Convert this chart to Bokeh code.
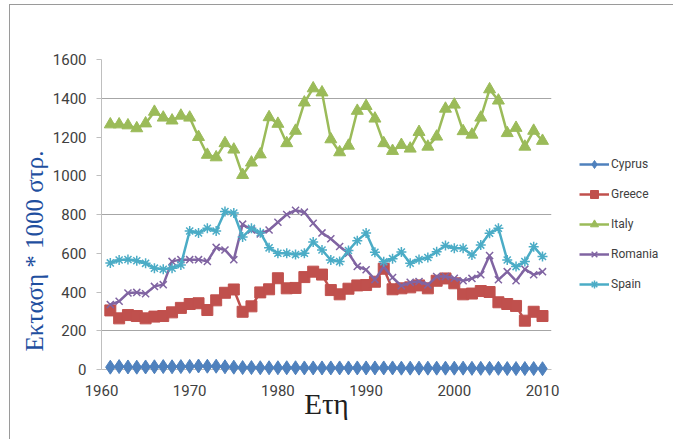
from bokeh.plotting import figure
from bokeh.models import Range1d, FixedTicker, Legend, Title
from bokeh.embed import file_html
from bokeh.resources import INLINE

years = list(range(1961, 2011))

cyprus = [12, 15, 13, 12, 13, 14, 15, 14, 15, 16,
          18, 17, 17, 14, 12, 10, 10, 9, 9, 9,
          9, 9, 8, 8, 8, 8, 8, 8, 8, 8,
          8, 8, 8, 7, 7, 7, 7, 7, 7, 7,
          7, 6, 6, 6, 6, 5, 5, 5, 5, 4]
greece = [305, 264, 281, 276, 264, 273, 276, 295, 318, 338,
          342, 307, 357, 396, 413, 298, 326, 398, 414, 471,
          419, 421, 477, 505, 490, 410, 388, 417, 434, 436,
          453, 520, 414, 419, 424, 434, 419, 458, 470, 445,
          388, 392, 405, 400, 347, 338, 328, 252, 298, 276]
italy = [1265, 1265, 1260, 1245, 1270, 1330, 1300, 1285, 1310, 1300,
         1200, 1108, 1095, 1168, 1135, 1004, 1068, 1110, 1302, 1268,
         1168, 1232, 1378, 1451, 1430, 1188, 1121, 1155, 1335, 1360,
         1295, 1168, 1128, 1159, 1140, 1226, 1150, 1202, 1346, 1367,
         1230, 1212, 1300, 1446, 1388, 1220, 1247, 1150, 1232, 1180]
romania = [335, 352, 395, 398, 391, 429, 438, 558, 567, 567,
           567, 558, 630, 617, 567, 750, 720, 700, 720, 760,
           800, 822, 812, 755, 705, 675, 635, 600, 532, 515,
           464, 531, 475, 432, 450, 454, 437, 480, 480, 471,
           458, 470, 489, 588, 463, 505, 458, 518, 489, 505]
spain = [550, 565, 568, 561, 548, 523, 517, 523, 540, 715,
         705, 729, 715, 815, 808, 684, 729, 706, 628, 600,
         600, 593, 600, 658, 617, 565, 557, 614, 665, 704,
         605, 556, 572, 606, 549, 568, 578, 608, 640, 626,
         626, 591, 642, 703, 729, 565, 531, 557, 634, 583]

x_ticks = [1960, 1970, 1980, 1990, 2000, 2010]
y_ticks = [0, 200, 400, 600, 800, 1000, 1200, 1400, 1600]
grid_ticks = [200, 800, 1400, 1600]

series = [
    ("Cyprus", cyprus, "#4F81BD", "diamond", 14),
    ("Greece", greece, "#C0504D", "square", 11),
    ("Italy", italy, "#9BBB59", "triangle", 12),
    ("Romania", romania, "#8064A2", "x", 10),
    ("Spain", spain, "#4BACC6", "asterisk", 10),
]

TICK_FONT = "Liberation Sans Narrow, Roboto, sans-serif"

p = figure(frame_width=450, frame_height=310, output_backend="svg", toolbar_location=None,
           x_range=Range1d(1960, 2011.02), y_range=Range1d(0, 1600),
           min_border_left=91, min_border_right=119, min_border_top=54,
           min_border_bottom=70)
p.outline_line_color = None
p.background_fill_color = "white"
p.border_fill_color = "white"
p.styles = {"border-left": "1px solid #9a9a9a", "border-top": "1px solid #9a9a9a",
            "margin-left": "9px", "margin-top": "4px"}

p.xgrid.visible = False
p.ygrid.ticker = FixedTicker(ticks=grid_ticks)
p.ygrid.grid_line_color = "#a6a6a6"
p.ygrid.grid_line_width = 1

p.xaxis.ticker = FixedTicker(ticks=x_ticks)
p.yaxis.ticker = FixedTicker(ticks=y_ticks)

for ax in (p.xaxis[0], p.yaxis[0]):
    ax.axis_line_color = "#bfbfbf"
    ax.major_tick_line_color = "#bfbfbf"
    ax.minor_tick_line_color = None
    ax.major_label_text_font = TICK_FONT
    ax.major_label_text_font_size = "15px"
    ax.major_label_text_color = "#404040"

p.yaxis.major_tick_out = 5
p.yaxis.major_tick_in = 0
p.yaxis.major_label_standoff = 10
p.xaxis.major_tick_out = 0
p.xaxis.major_tick_in = 0
p.xaxis.major_label_standoff = 15

ytitle = Title(text="Εκταση * 1000 στρ.", align="left", offset=18,
               text_font="Liberation Serif", text_font_style="normal",
               text_font_size="25px", text_color="#1f4f9f", standoff=3)
p.add_layout(ytitle, "left")

p.xaxis.axis_label = "Ετη"
p.xaxis.axis_label_text_font = "Liberation Serif"
p.xaxis.axis_label_text_font_style = "normal"
p.xaxis.axis_label_text_font_size = "29px"
p.xaxis.axis_label_text_color = "#202020"
p.xaxis.axis_label_standoff = -11

items = []
for name, vals, color, marker, size in series:
    r1 = p.line(years, vals, line_color=color, line_width=2.5)
    r2 = p.scatter(years, vals, marker=marker, size=size, fill_color=color,
                   line_color=color, line_width=1.5 if marker in ("x", "asterisk") else 1,
                   level="overlay" if name == "Cyprus" else "glyph")
    items.append((name, [r1, r2]))

legend = Legend(items=items, location=(28, 75), orientation="vertical",
                background_fill_alpha=0, border_line_color=None,
                padding=0, margin=0, spacing=10, label_height=20, glyph_height=20,
                glyph_width=30, label_standoff=2,
                label_text_font=TICK_FONT, label_text_font_size="12px",
                label_text_color="#404040")
p.add_layout(legend, "right")

open("out.html", "w").write(file_html(p, INLINE))
